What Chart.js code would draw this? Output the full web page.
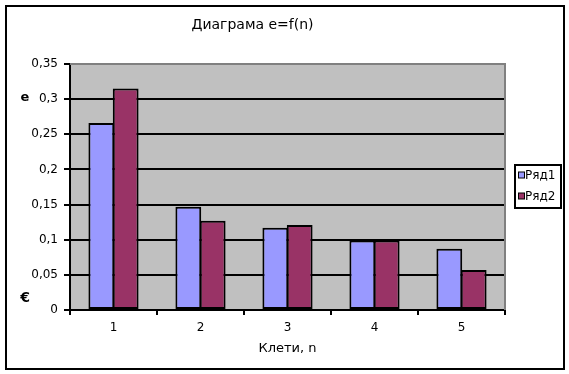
<!DOCTYPE html>
<html>
<head>
<meta charset="utf-8">
<script src="https://cdn.jsdelivr.net/npm/chart.js@4/dist/chart.umd.min.js"></script>
<style>
  html, body { margin: 0; padding: 0; background: #ffffff; }
  #c { display: block; }
</style>
</head>
<body>
<canvas id="c" width="569" height="374"></canvas>
<script>
const categories = ['1', '2', '3', '4', '5'];
const seriesNames = ['Ряд1', 'Ряд2'];
const series1 = [0.266, 0.147, 0.117, 0.099, 0.087];
const series2 = [0.315, 0.127, 0.121, 0.099, 0.057];
const yTickValues = [0, 0.05, 0.1, 0.15, 0.2, 0.25, 0.3, 0.35];
const yTickLabels = ['0', '0,05', '0,1', '0,15', '0,2', '0,25', '0,3', '0,35'];
const titleText = 'Диаграма e=f(n)';
const xTitleText = 'Клети, n';
const yTitleText = 'e';
const strayText = '€';
const colors = ['#9999FF', '#993366'];

const FONT = '"DejaVu Sans", Verdana, sans-serif';

const decorPlugin = {
  id: 'decor',
  beforeDraw(chart) {
    const ctx = chart.ctx;
    const a = chart.chartArea;
    ctx.save();
    ctx.fillStyle = '#ffffff';
    ctx.fillRect(0, 0, chart.width, chart.height);
    ctx.fillStyle = '#C0C0C0';
    ctx.fillRect(a.left, a.top, a.right - a.left, a.bottom - a.top);
    ctx.restore();
  },
  afterDraw(chart) {
    const ctx = chart.ctx;
    const a = chart.chartArea;
    ctx.save();
    ctx.strokeStyle = '#808080';
    ctx.lineWidth = 2;
    ctx.beginPath();
    ctx.moveTo(a.left, a.top);
    ctx.lineTo(a.right, a.top);
    ctx.lineTo(a.right, a.bottom);
    ctx.stroke();
    ctx.strokeStyle = '#000000';
    ctx.lineWidth = 2;
    ctx.strokeRect(6, 6, 558, 363);
    ctx.fillStyle = '#000000';
    ctx.font = 'bold 13px ' + FONT;
    ctx.textAlign = 'center';
    ctx.textBaseline = 'middle';
    ctx.fillText(yTitleText, 25, 98);
    ctx.font = 'bold 14px ' + FONT;
    ctx.fillText(strayText, 25, 298);
    const lx = 515, ly = 165, lw = 46, lh = 43;
    ctx.fillStyle = '#ffffff';
    ctx.fillRect(lx, ly, lw, lh);
    ctx.strokeStyle = '#000000';
    ctx.lineWidth = 2;
    ctx.strokeRect(lx, ly, lw, lh);
    ctx.font = '12px ' + FONT;
    ctx.textAlign = 'left';
    ctx.textBaseline = 'middle';
    chart.data.datasets.forEach((ds, i) => {
      const cy = 175 + i * 21;
      ctx.fillStyle = ds.backgroundColor;
      ctx.fillRect(518.5, cy - 3, 6, 6);
      ctx.lineWidth = 1;
      ctx.strokeStyle = '#000000';
      ctx.strokeRect(518.5, cy - 3, 6, 6);
      ctx.fillStyle = '#000000';
      ctx.fillText(ds.label, 525, cy + 1);
    });
    ctx.restore();
  }
};

new Chart(document.getElementById('c'), {
  type: 'bar',
  data: {
    labels: categories,
    datasets: [
      { label: seriesNames[0], data: series1, backgroundColor: colors[0], borderColor: '#000000', borderWidth: 2, borderSkipped: false },
      { label: seriesNames[1], data: series2, backgroundColor: colors[1], borderColor: '#000000', borderWidth: 2, borderSkipped: false }
    ]
  },
  options: {
    responsive: false,
    animation: false,
    devicePixelRatio: 1,
    layout: { padding: { left: 0, top: 0, right: 64, bottom: 0 } },
    datasets: { bar: { categoryPercentage: 0.56, barPercentage: 1.06 } },
    plugins: {
      legend: { display: false },
      tooltip: { enabled: false },
      title: {
        display: true,
        text: titleText,
        color: '#000000',
        font: { family: FONT, size: 14, weight: 'normal', lineHeight: 1.2 },
        padding: { top: 17, bottom: 30.2 }
      }
    },
    scales: {
      x: {
        afterFit(scale) { scale.height = 64; },
        offset: true,
        grid: { offset: true, drawOnChartArea: false, drawTicks: true, tickLength: 5, color: '#000000', lineWidth: 2 },
        border: { display: true, color: '#000000', width: 2 },
        ticks: { color: '#000000', font: { family: FONT, size: 12 }, padding: 6, maxRotation: 0 },
        title: { display: true, text: xTitleText, color: '#000000', font: { family: FONT, size: 13, lineHeight: 1.2 }, padding: { top: 0, bottom: 18 } }
      },
      y: {
        afterFit(scale) { scale.width = 70; },
        min: 0,
        max: 0.35,
        afterBuildTicks(scale) { scale.ticks = yTickValues.map(v => ({ value: v })); },
        grid: {
          color: (c) => (c.tick && c.tick.value >= 0.35 ? '#808080' : '#000000'),
          tickColor: '#000000',
          lineWidth: 2,
          drawTicks: true,
          tickLength: 6
        },
        border: { display: true, color: '#000000', width: 2 },
        ticks: {
          color: '#000000',
          font: { family: FONT, size: 12 },
          padding: 6,
          callback: (v, i) => yTickLabels[i]
        }
      }
    }
  },
  plugins: [decorPlugin]
});
</script>
</body>
</html>
